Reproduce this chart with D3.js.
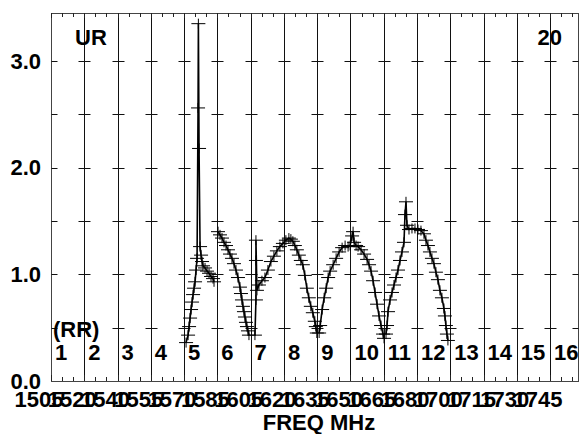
<!DOCTYPE html>
<html><head><meta charset="utf-8">
<script src="https://cdn.jsdelivr.net/npm/d3@7"></script>
<style>
html,body{margin:0;padding:0;background:#fff;}
text{font-family:"Liberation Sans",Arial,sans-serif;font-weight:bold;fill:#000;}
</style></head>
<body>
<svg id="chart" width="579" height="434"></svg>
<script>
// channel numbers and their frequency labels (MHz)
const channels = [1,2,3,4,5,6,7,8,9,10,11,12,13,14,15,16];
const freqLabels = ["1505","1520","1540","1555","1570","1585","1605","1620","1635","1650","1665","1680","1700","1715","1730","1745"];
const yTicks = [0,1,2,3];
const yLabels = ["0.0","1.0","2.0","3.0"];
const crossLevels = [0.5,1.0,1.5,2.0,2.5,3.0];

const segment1 = [[5.06,0.36],[5.12,0.43],[5.15,0.51],[5.18,0.59],[5.21,0.67],[5.24,0.74],[5.27,0.81],[5.30,0.87],[5.33,0.93],[5.36,1.04],[5.39,1.15],[5.42,2.56],[5.43,3.35],[5.45,2.18],[5.48,1.26],[5.51,1.18],[5.54,1.12],[5.57,1.08],[5.63,1.06],[5.69,1.03],[5.75,1.01],[5.81,0.98],[5.87,0.96],[5.90,0.93]];
const segment2 = [[6.02,1.40],[6.08,1.37],[6.14,1.34],[6.20,1.30],[6.26,1.27],[6.32,1.23],[6.38,1.19],[6.44,1.15],[6.50,1.10],[6.56,1.04],[6.62,0.97],[6.68,0.88],[6.71,0.82],[6.74,0.76],[6.77,0.70],[6.80,0.65],[6.83,0.60],[6.86,0.55],[6.89,0.51],[6.92,0.47],[6.95,0.43]];
const segment3 = [[7.13,0.43],[7.16,0.76],[7.16,1.13],[7.16,1.32],[7.19,0.85],[7.25,0.90],[7.34,0.94],[7.43,0.97],[7.52,1.04],[7.61,1.12],[7.70,1.17],[7.79,1.22],[7.88,1.26],[7.97,1.29],[8.06,1.32],[8.15,1.34],[8.21,1.33],[8.27,1.31],[8.33,1.27],[8.39,1.23],[8.45,1.18],[8.51,1.13],[8.57,1.09],[8.63,0.99],[8.69,0.87],[8.75,0.78],[8.81,0.70],[8.87,0.64],[8.93,0.56],[8.96,0.51],[8.99,0.45]];
const segment4 = [[9.06,0.45],[9.09,0.52],[9.15,0.67],[9.21,0.78],[9.27,0.87],[9.33,0.97],[9.39,1.03],[9.48,1.09],[9.57,1.15],[9.66,1.21],[9.75,1.25],[9.84,1.27],[9.93,1.26],[9.99,1.27],[10.05,1.36],[10.08,1.40],[10.11,1.30],[10.17,1.27],[10.23,1.26],[10.32,1.23],[10.41,1.19],[10.50,1.14],[10.56,1.09],[10.62,1.03],[10.68,0.94],[10.74,0.83],[10.80,0.72],[10.86,0.61],[10.92,0.52],[10.98,0.44],[11.01,0.40]];
const segment5 = [[11.07,0.44],[11.10,0.52],[11.13,0.65],[11.19,0.76],[11.25,0.83],[11.31,0.90],[11.37,0.97],[11.43,1.04],[11.49,1.13],[11.55,1.21],[11.61,1.30],[11.64,1.56],[11.67,1.68],[11.70,1.46],[11.76,1.42],[11.85,1.43],[11.94,1.43],[12.03,1.42],[12.12,1.41],[12.21,1.38],[12.27,1.32],[12.33,1.27],[12.39,1.21],[12.45,1.15],[12.51,1.10],[12.57,1.02],[12.63,0.95],[12.69,0.85],[12.75,0.78],[12.81,0.68],[12.84,0.61],[12.87,0.52],[12.90,0.44],[12.93,0.38]];
const segments = [segment1, segment2, segment3, segment4, segment5];

const svg = d3.select("#chart");
const L = 51, T = 13, B = 381, R = 578.5;
const x = d3.scaleLinear().domain([1,17]).range([L, L + 16*33.27]);
const y = d3.scaleLinear().domain([0,3.45]).range([B, T]);

const g = svg.append("g");

// vertical channel lines
g.selectAll("line.ch").data(channels.slice(1)).enter().append("line")
  .attr("x1", d => Math.round(x(d)) + 0.5).attr("x2", d => Math.round(x(d)) + 0.5)
  .attr("y1", T).attr("y2", B).attr("stroke", "#111").attr("stroke-width", 1);

// frame
g.append("rect").attr("x", L + 0.5).attr("y", T + 0.5).attr("width", R - L - 0.5).attr("height", B - T)
  .attr("fill", "none").attr("stroke", "#444").attr("stroke-width", 1);

// horizontal cross marks at each channel line
crossLevels.forEach(v => {
  channels.forEach(c => {
    const cx = Math.round(x(c)) + 0.5;
    const x1 = c === 1 ? cx : cx - 6;
    g.append("line").attr("x1", x1).attr("x2", cx + 6)
      .attr("y1", Math.round(y(v)) + 0.5).attr("y2", Math.round(y(v)) + 0.5)
      .attr("stroke", "#111").attr("stroke-width", 1);
  });
  g.append("line").attr("x1", R - 6).attr("x2", R)
    .attr("y1", Math.round(y(v)) + 0.5).attr("y2", Math.round(y(v)) + 0.5)
    .attr("stroke", "#111");
});

// minor ticks on top and bottom (thirds of a channel)
const minor = d3.range(1, 17, 1/3);
minor.forEach((m, i) => {
  const px = Math.round(x(m)) + 0.5;
  if (px > R) return;
  const major = i % 3 === 0;
  g.append("line").attr("x1", px).attr("x2", px).attr("y1", T).attr("y2", T + (major ? 5 : 4)).attr("stroke", "#222");
  g.append("line").attr("x1", px).attr("x2", px).attr("y1", B).attr("y2", B - (major ? 6 : 4)).attr("stroke", "#222");
});

// y labels
g.selectAll("text.yl").data(yTicks).enter().append("text")
  .attr("x", 41).attr("y", d => y(d)).attr("dy", "0.35em")
  .attr("text-anchor", "end").attr("font-size", 22).text((d, i) => yLabels[i]);

// channel numbers
g.selectAll("text.cn").data(channels).enter().append("text")
  .attr("x", d => x(d) + 4).attr("y", 360).attr("font-size", 22).text(d => d);

// frequency labels
g.selectAll("text.fl").data(channels).enter().append("text")
  .attr("x", d => x(d - 0.36)).attr("y", 407).attr("text-anchor", "middle")
  .attr("font-size", 22).text((d, i) => freqLabels[i]);

g.append("text").attr("x", 319).attr("y", 430).attr("text-anchor", "middle").attr("font-size", 22).text("FREQ MHz");
g.append("text").attr("x", 75).attr("y", 45).attr("font-size", 22).text("UR");
g.append("text").attr("x", 562).attr("y", 45).attr("text-anchor", "end").attr("font-size", 22).text("20");
g.append("text").attr("x", 53).attr("y", 337).attr("font-size", 22).text("(RR)");

// data lines and plus markers
const line = d3.line().x(d => x(d[0])).y(d => y(d[1]));
segments.forEach(seg => {
  g.append("path").datum(seg).attr("d", line).attr("fill", "none").attr("stroke", "#000").attr("stroke-width", 1.6);
  const m = g.append("g");
  m.selectAll("path").data(seg).enter().append("path")
    .attr("d", d => { const px = x(d[0]), py = y(d[1]); return `M${px-7},${py}H${px+7}M${px},${py-5}V${py+5}`; })
    .attr("stroke", "#000").attr("stroke-width", 1).attr("fill", "none");
});
</script>
</body></html>
